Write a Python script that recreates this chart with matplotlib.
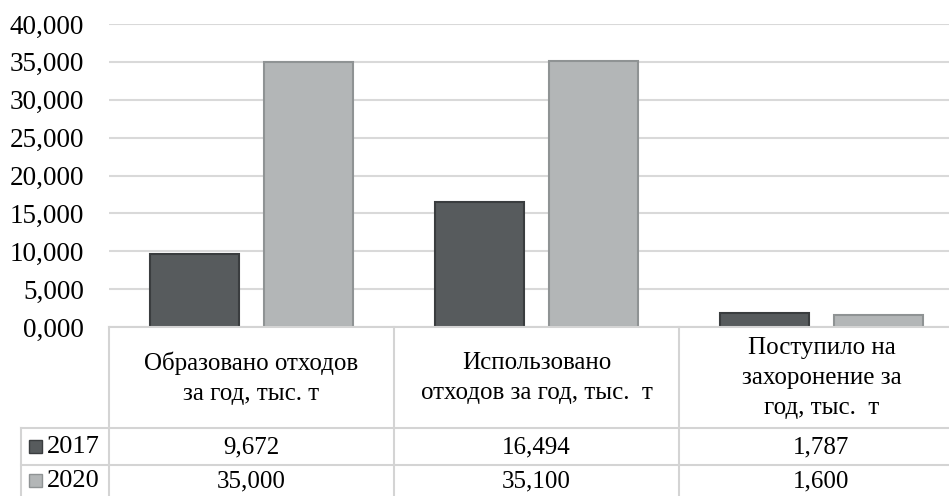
import numpy as np
import matplotlib.pyplot as plt
from matplotlib import transforms
from matplotlib.patches import Rectangle

plt.rcParams['font.family'] = ['Liberation Serif', 'DejaVu Serif']

categories = ["Образовано отходов\nза год, тыс. т",
              "Использовано\nотходов за год, тыс.  т",
              "Поступило на\nзахоронение за\nгод, тыс.  т"]
years = ["2017", "2020"]
v2017 = [9.672, 16.494, 1.787]
v2020 = [35.000, 35.100, 1.600]
labels2017 = ["9,672", "16,494", "1,787"]
labels2020 = ["35,000", "35,100", "1,600"]
yticks = [0, 5, 10, 15, 20, 25, 30, 35, 40]

W, H = 949, 496
fill = ["#575b5d", "#b3b6b7"]
edge = ["#3a3d3f", "#8f9394"]
grid = "#d9d9d9"


def fy(py):
    return 1 - py / H


def fx(px):
    return px / W


fig = plt.figure(figsize=(W / 100, H / 100), dpi=100)
left, cat_w = 109, 285
ax = fig.add_axes([fx(left), fy(327), fx(3 * cat_w), fy(24) - fy(327)])

x = np.arange(len(categories))
bw, off = 0.315, 0.2
ax.bar(x - off, v2017, bw, color=fill[0], edgecolor=edge[0], linewidth=1.5, zorder=3)
ax.bar(x + off, v2020, bw, color=fill[1], edgecolor=edge[1], linewidth=1.5, zorder=3)

ax.set_xlim(-0.5, 2.5)
ax.set_ylim(0, 40)
ax.set_yticks(yticks)
ax.set_yticklabels([f"{t},000" for t in yticks], fontsize=19.5)
ax.set_xticks([])
ax.tick_params(axis='y', length=0, pad=18)
for s in ax.spines.values():
    s.set_visible(False)
ax.grid(axis='y', color=grid, linewidth=1.5, zorder=0)

# data table below the plot
tr = transforms.blended_transform_factory(ax.transData, fig.transFigure)
lc = "#d4d4d4"
fig.add_artist(plt.Line2D([fx(left), 1], [fy(327)] * 2, color=lc, lw=1.5))
for yy in [428, 465]:
    fig.add_artist(plt.Line2D([fx(21), 1], [fy(yy)] * 2, color=lc, lw=1.5))
fig.add_artist(plt.Line2D([fx(21)] * 2, [fy(428), 0], color=lc, lw=1.5))
for k in range(3):
    xp = left + k * cat_w
    fig.add_artist(plt.Line2D([fx(xp)] * 2, [fy(327), 0], color=lc, lw=1.5))

for i, c in enumerate(categories):
    ax.text(i, fy(378), c, transform=tr, ha='center', va='center',
            multialignment='center', fontsize=18, linespacing=1.45)
    ax.text(i, fy(447), labels2017[i], transform=tr, ha='center', va='center', fontsize=18)
    ax.text(i, fy(481), labels2020[i], transform=tr, ha='center', va='center', fontsize=18)

for j, (yr, yc) in enumerate(zip(years, [447, 481])):
    fig.add_artist(Rectangle((fx(29), fy(yc + 6)), fx(13), fy(yc - 7) - fy(yc + 6),
                             facecolor=fill[j], edgecolor=edge[j], lw=1,
                             transform=fig.transFigure))
    fig.text(fx(47), fy(yc), yr, ha='left', va='center', fontsize=19)

fig.savefig("out.png", dpi=100)
